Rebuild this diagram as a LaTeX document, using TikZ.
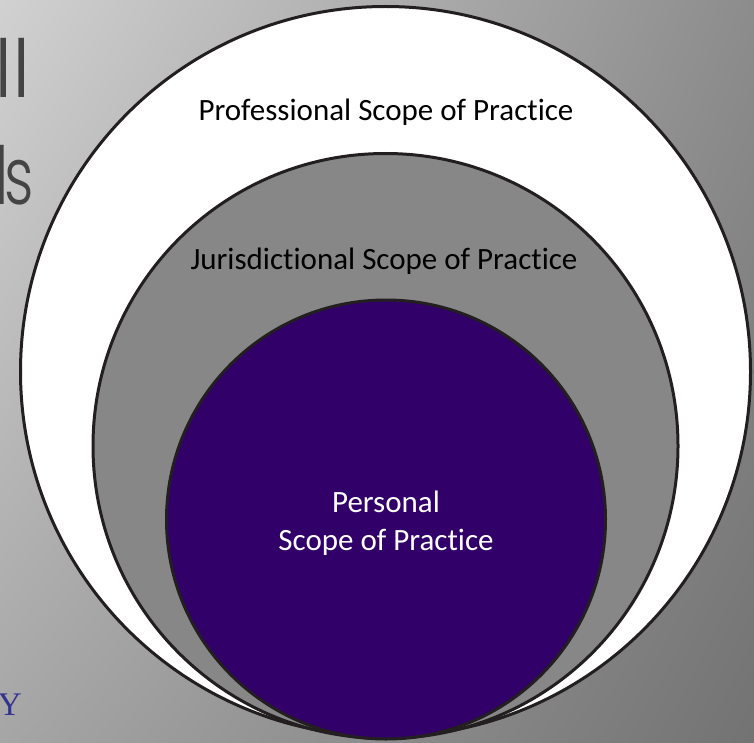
\documentclass[tikz,border=0pt]{standalone}
\usepackage{fontspec}
\setmainfont{Carlito}[Ligatures={NoCommon,NoRare}]
\newfontfamily\titlefont{Poppins Light}
\newfontfamily\serifname{Liberation Serif}
\usepackage{xcolor}
\usetikzlibrary{shadings}
\definecolor{ringline}{HTML}{231F20}
\definecolor{jurgray}{HTML}{878787}
\definecolor{perspurple}{HTML}{310068}
\definecolor{titlegray}{HTML}{444444}
\definecolor{uniblue}{HTML}{33338F}

\begin{document}
\begin{tikzpicture}[
    x=1pt, y=-1pt,
    ring/.style={circle, draw=ringline, line width=3pt, inner sep=0pt},
    scopetext/.style={font=\fontsize{31}{38}\selectfont, inner sep=0pt},
    titlebit/.style={font=\titlefont\fontsize{80}{90}\selectfont, text=titlegray, anchor=base east, inner sep=0pt}
]
    % slide background
    \clip (0,0) rectangle (754,743);
    \shade[upper left=black!18, upper right=black!45, lower left=black!35, lower right=black!55]
        (0,0) rectangle (754,743);

    % cut-off slide title and footer
    \node[titlebit] (titleA) at (31,98) {ll};
    \node[titlebit, xscale=0.72, transform shape] (titleB) at (34,205) {l\kern-6pt s};
    \node[font=\serifname\fontsize{33}{38}\selectfont, text=uniblue, anchor=base east, inner sep=0pt] (footer) at (22,715) {Y};

    % nested scopes, all touching at the bottom
    \node[ring, fill=white, minimum size=730pt] (professional) at (385.5,371.5) {};
    \node[ring, fill=jurgray, minimum size=585pt] (jurisdictional) at (385.5,446) {};
    \node[ring, fill=perspurple, minimum size=439pt] (personal) at (386,519.5) {};

    \node[scopetext, anchor=base] (proftext) at (386,121) {Professional Scope of Practice};
    \node[scopetext, anchor=base] (jurtext) at (384,269) {Jurisdictional Scope of Practice};
    \node[scopetext, anchor=base, text=white, align=center] (perstext) at (386,550)
        {Personal\\Scope of Practice};
\end{tikzpicture}
\end{document}
